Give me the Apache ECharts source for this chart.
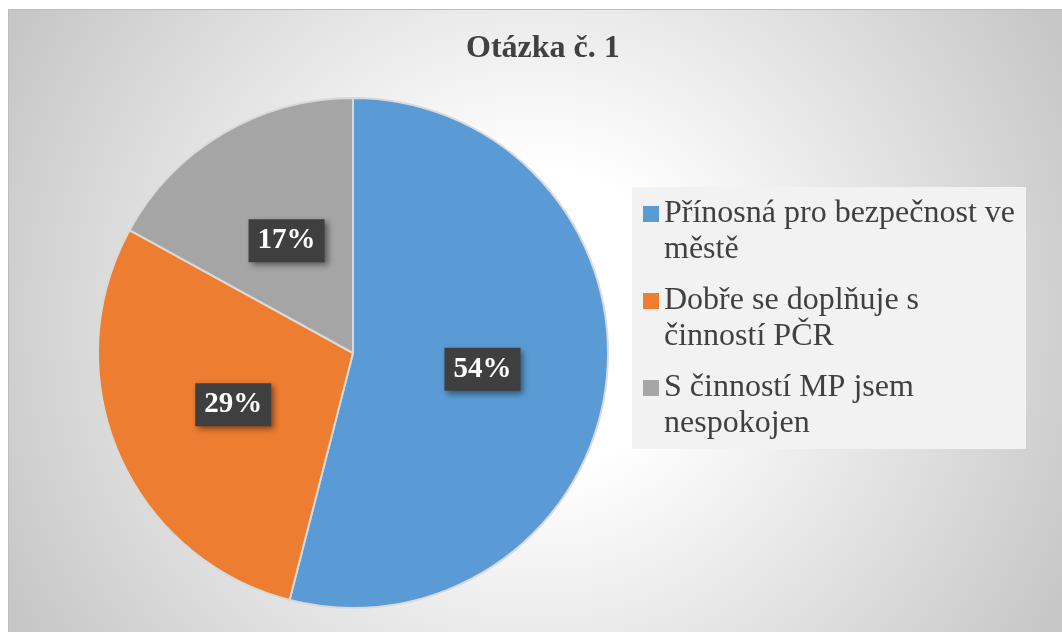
<!DOCTYPE html>
<html>
<head>
<meta charset="utf-8">
<script src="https://cdn.jsdelivr.net/npm/echarts@6/dist/echarts.min.js"></script>
<style>
  html, body { margin: 0; padding: 0; background: #ffffff; }
  #frame {
    position: absolute; left: 8px; top: 9px; width: 1054px; height: 623px;
    box-sizing: border-box; border-top: 1px solid #bdbdbd; border-left: 1px solid #bdbdbd;
    background: radial-gradient(circle at 527px 311px, #ffffff 0px, #ffffff 150px, #c6c6c6 600px);
  }
  #chart { position: absolute; left: 0; top: 0; width: 1053px; height: 622px; }
</style>
</head>
<body>
<div id="frame"><div id="chart"></div></div>
<script>
const titleText = 'Otázka č. 1';
const categories = ['Přínosná pro bezpečnost ve městě', 'Dobře se doplňuje s činností PČR', 'S činností MP jsem nespokojen'];
const legendLabels = ['Přínosná pro bezpečnost ve\nměstě', 'Dobře se doplňuje s\nčinností PČR', 'S činností MP jsem\nnespokojen'];
const values = [54, 29, 17];
const colors = ['#5b9bd5', '#ed7d31', '#a5a5a5'];

const serif = "'Liberation Serif', 'Times New Roman', serif";
const chart = echarts.init(document.getElementById('chart'), null, { renderer: 'canvas' });

const data = categories.map((name, i) => ({ name: name, value: values[i], itemStyle: { color: colors[i] } }));

chart.setOption({
  animation: false,
  backgroundColor: 'transparent',
  title: {
    text: titleText,
    left: 452,
    top: 18,
    textStyle: { fontFamily: serif, fontSize: 32, fontWeight: 'bold', color: '#404040' }
  },
  legend: {
    orient: 'vertical',
    left: 623,
    top: 177,
    padding: [9, 11, 7, 11],
    backgroundColor: '#f2f2f2',
    itemWidth: 16,
    itemHeight: 52,
    itemGap: 15,
    icon: 'path://M0,0L16,0L16,16L0,16Z M0,52L0,52Z',
    itemStyle: { borderWidth: 0 },
    selectedMode: false,
    formatter: function (name) { return legendLabels[categories.indexOf(name)]; },
    textStyle: { fontFamily: serif, fontSize: 32, lineHeight: 36, color: '#404040' },
    data: categories
  },
  series: [{
    type: 'pie',
    center: [344, 343],
    radius: 255,
    startAngle: 90,
    clockwise: true,
    silent: true,
    data: data,
    itemStyle: { borderColor: '#d9d9d9', borderWidth: 2 },
    label: {
      show: true,
      position: 'inner',
      formatter: '{c}%',
      color: '#ffffff',
      fontFamily: serif,
      fontWeight: 'bold',
      fontSize: 29,
      lineHeight: 29,
      backgroundColor: '#3f3f3f',
      padding: [7, 9, 7, 9],
      shadowColor: 'rgba(0,0,0,0.45)',
      shadowBlur: 6,
      shadowOffsetX: 3,
      shadowOffsetY: 3
    },
    labelLine: { show: false },
    emphasis: { disabled: true }
  }]
});
</script>
</body>
</html>
